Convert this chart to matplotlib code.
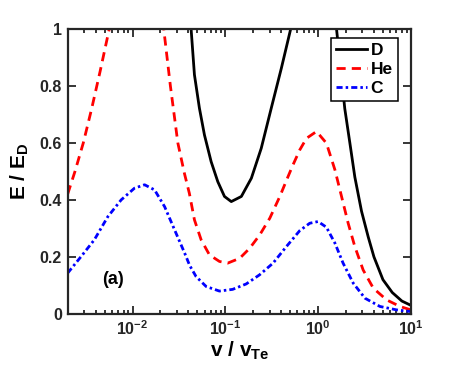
import numpy as np
import matplotlib
matplotlib.use('Agg')
import matplotlib.pyplot as plt

# --- fontes / estilo ---
plt.rcParams['font.family'] = 'Liberation Sans'
plt.rcParams['font.weight'] = 'bold'
plt.rcParams['mathtext.fontset'] = 'custom'
plt.rcParams['mathtext.rm'] = 'Liberation Sans:bold'
plt.rcParams['mathtext.it'] = 'Liberation Sans:bold'
plt.rcParams['mathtext.bf'] = 'Liberation Sans:bold'

# --- dados ---
d_esq_v = [0.040, 0.0428, 0.0465, 0.0526, 0.0596, 0.0704, 0.083, 0.098, 0.116, 0.149, 0.191,
           0.244, 0.313, 0.402, 0.507, 0.56]
d_esq_E = [1.12, 1.0, 0.839, 0.722, 0.628, 0.534, 0.464, 0.412, 0.394, 0.412, 0.476,
           0.581, 0.722, 0.862, 1.0, 1.07]
d_dir_v = [1.48, 1.58, 1.94, 2.2, 2.49, 2.94, 3.47, 4.0, 5.0, 6.3, 8.0, 10.0]
d_dir_E = [1.12, 1.0, 0.72, 0.60, 0.48, 0.36, 0.27, 0.20, 0.12, 0.075, 0.045, 0.03]

he_esq_v = [0.002, 0.0024, 0.00295, 0.00363, 0.00447, 0.00562, 0.0063]
he_esq_E = [0.42, 0.50, 0.60, 0.72, 0.85, 1.0, 1.08]
he_dir_v = [0.0205, 0.0217, 0.0256, 0.0308, 0.0362, 0.041, 0.0465, 0.0549, 0.0675, 0.0865,
            0.106, 0.143, 0.183, 0.235, 0.302, 0.387, 0.475, 0.537, 0.634, 0.75, 0.962,
            1.23, 1.52, 1.79, 2.11, 2.49, 3.06, 3.94, 5.48, 7.64, 10.0]
he_dir_E = [1.08, 1.0, 0.80, 0.60, 0.494, 0.423, 0.33, 0.26, 0.207, 0.184,
            0.178, 0.195, 0.23, 0.277, 0.336, 0.412, 0.482, 0.523, 0.575, 0.616, 0.64,
            0.599, 0.505, 0.412, 0.318, 0.236, 0.154, 0.09, 0.049, 0.026, 0.014]

c_v = [0.002, 0.00279, 0.00388, 0.00542, 0.00755, 0.0105, 0.0135, 0.0173, 0.0222, 0.0284,
       0.0365, 0.0413, 0.0484, 0.0622, 0.0865, 0.12, 0.168, 0.234, 0.327, 0.455, 0.634,
       0.813, 1.0, 1.23, 1.52, 1.86, 2.39, 3.2, 4.64, 7.03, 10.0]
c_E = [0.143, 0.201, 0.26, 0.341, 0.40, 0.441, 0.453, 0.435, 0.376, 0.295,
       0.213, 0.17, 0.131, 0.096, 0.08, 0.086, 0.105, 0.137, 0.178, 0.236, 0.292,
       0.318, 0.324, 0.304, 0.248, 0.178, 0.108, 0.055, 0.026, 0.014, 0.008]

yticks = [0, 0.2, 0.4, 0.6, 0.8, 1]
ytick_labels = ['0', '0.2', '0.4', '0.6', '0.8', '1']

cinza = '#262626'

fig = plt.figure(figsize=(4.54, 3.75), dpi=100)
ax = fig.add_axes([0.149, 0.163, 0.756, 0.76])

ax.plot(d_esq_v, d_esq_E, '-', color='black', lw=2, label='D')
ax.plot(d_dir_v, d_dir_E, '-', color='black', lw=2)
ax.plot(he_esq_v, he_esq_E, '--', color='red', lw=2, dashes=(3.3, 2.2), label='He')
ax.plot(he_dir_v, he_dir_E, '--', color='red', lw=2, dashes=(3.3, 2.2))
ax.plot(c_v, c_E, '-.', color='blue', lw=2, dashes=(2.2, 1.1, 0.9, 1.1), label='C')

ax.set_xscale('log')
ax.set_xlim(0.002, 10)
ax.set_ylim(0, 1)
ax.set_yticks(yticks)
ax.set_yticklabels(ytick_labels)

for s in ax.spines.values():
    s.set_linewidth(1.6)
    s.set_color(cinza)
ax.tick_params(which='both', direction='in', top=True, right=True, colors=cinza,
               labelsize=11.5, width=1.3)
ax.tick_params(which='major', length=5.5, pad=4)
ax.tick_params(which='minor', length=2.8)
ax.tick_params(axis='y', which='minor', left=False, right=False)

ax.set_xlabel(r'v / v$_{\mathrm{Te}}$', fontsize=15, fontweight='bold', labelpad=1)
ax.set_ylabel(r'E / E$_{\mathrm{D}}$', fontsize=15, fontweight='bold', labelpad=6)

ax.text(0.132, 0.12, '(a)', transform=ax.transAxes, fontsize=13, fontweight='bold',
        ha='center', va='center')

leg = ax.legend(loc='upper right', bbox_to_anchor=(0.962, 0.968), borderaxespad=0,
                fontsize=12.5, handlelength=1.8, handletextpad=0.2, borderpad=0.3,
                labelspacing=0.2, fancybox=False, framealpha=1, edgecolor='black')
leg.get_frame().set_linewidth(1.1)

fig.savefig('out.png', dpi=100)
